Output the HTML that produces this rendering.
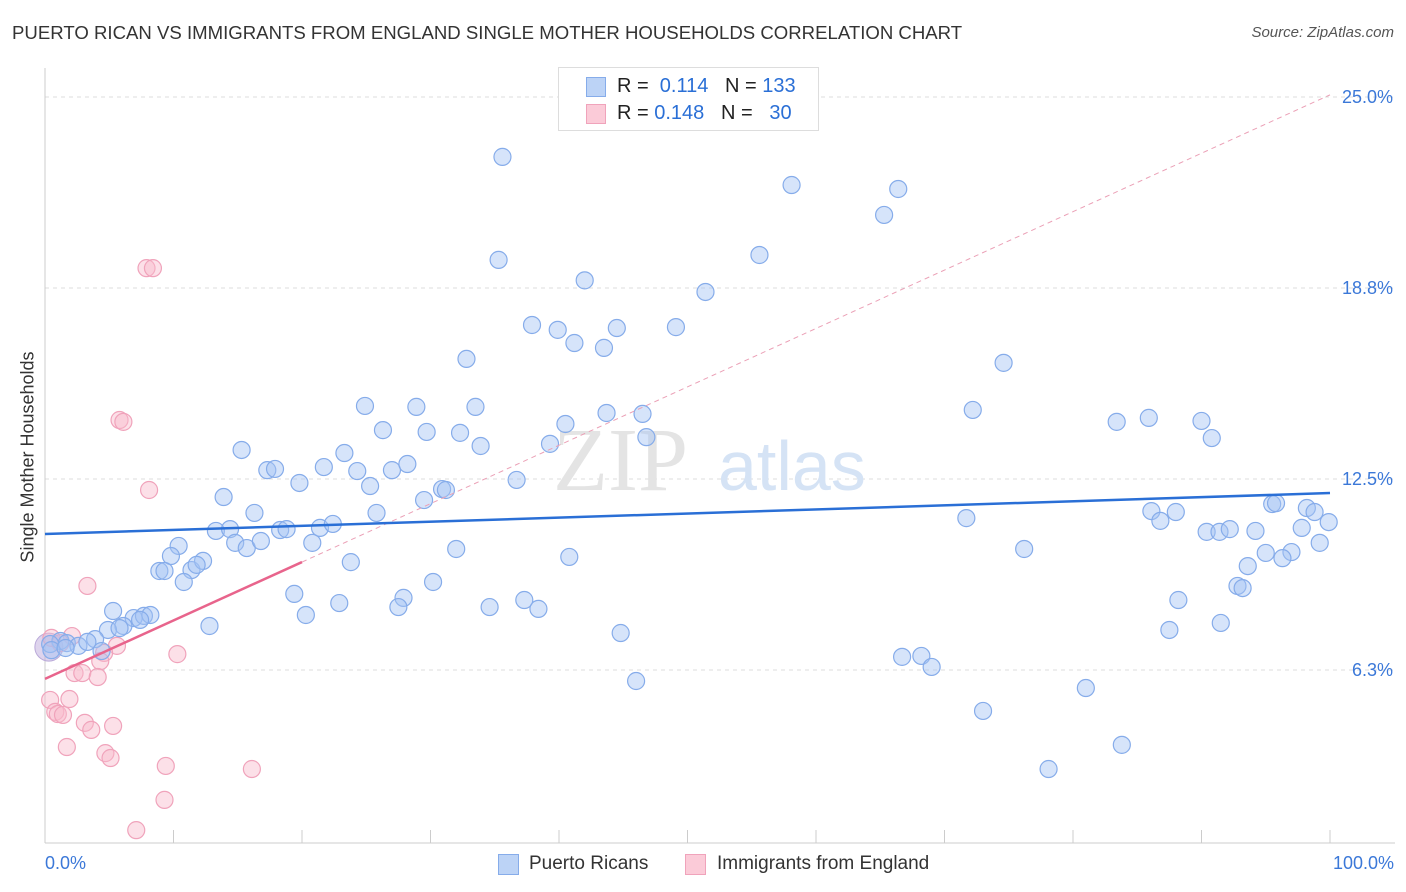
<!DOCTYPE html>
<html><head><meta charset="utf-8">
<style>
body{margin:0;background:#fff;font-family:"Liberation Sans",sans-serif;}
#wrap{position:relative;width:1406px;height:892px;overflow:hidden;}
.t{position:absolute;white-space:nowrap;}
</style></head>
<body><div id="wrap">
<div class="t" style="left:12px;top:22px;font-size:18.6px;color:#333;">PUERTO RICAN VS IMMIGRANTS FROM ENGLAND SINGLE MOTHER HOUSEHOLDS CORRELATION CHART</div>
<div class="t" style="right:12px;top:24px;font-size:15px;color:#555;font-style:italic;">Source: ZipAtlas.com</div>
<svg id="plot" width="1406" height="892" style="position:absolute;left:0;top:0"></svg>
</div>
<script>
const yTicks=[6.25,12.5,18.75,25];
const yTickLabels=["6.3%","12.5%","18.8%","25.0%"];
const blueX=[35.6,58.1,66.4,65.3,35.3,55.6,42.0,51.4,37.9,39.9,44.5,49.1,41.2,43.5,32.8,74.6,24.9,28.9,33.5,43.7,46.5,72.2,85.9,83.4,90.0,26.3,29.7,32.3,33.9,39.3,46.8,40.5,90.8,15.3,23.3,17.3,17.9,21.7,24.3,27.0,28.2,19.8,25.3,36.7,30.9,31.2,29.5,13.9,16.3,25.8,86.1,88.0,86.8,71.7,95.5,95.8,98.2,98.8,99.9,13.3,14.4,18.3,18.8,21.4,22.4,14.8,15.7,16.8,20.8,10.4,90.4,91.4,92.2,94.2,97.8,99.2,97.0,95.0,96.3,93.6,76.2,32.0,40.8,9.8,8.9,9.3,11.4,12.3,11.8,23.8,10.8,30.2,92.8,93.2,19.4,22.9,27.9,27.5,34.6,37.3,38.4,88.2,20.3,5.3,6.9,7.7,8.2,7.4,6.1,12.8,4.9,5.8,91.5,87.5,44.8,3.9,1.2,1.7,2.6,3.3,0.4,0.5,1.6,4.4,66.7,68.2,69.0,46.0,81.0,73.0,83.8,78.1];
const blueY=[23.04,22.12,21.99,21.14,19.67,19.83,19.0,18.62,17.54,17.38,17.44,17.47,16.95,16.79,16.43,16.30,14.89,14.86,14.86,14.66,14.63,14.76,14.50,14.37,14.40,14.10,14.04,14.01,13.58,13.65,13.87,14.30,13.84,13.45,13.35,12.79,12.83,12.89,12.76,12.79,12.99,12.37,12.27,12.47,12.17,12.14,11.81,11.91,11.39,11.39,11.45,11.42,11.13,11.22,11.68,11.71,11.55,11.42,11.09,10.80,10.86,10.83,10.86,10.90,11.03,10.41,10.24,10.47,10.41,10.31,10.77,10.77,10.86,10.80,10.90,10.41,10.11,10.08,9.91,9.65,10.21,10.21,9.95,9.98,9.49,9.49,9.52,9.82,9.69,9.78,9.13,9.13,9.00,8.93,8.74,8.44,8.61,8.31,8.31,8.54,8.25,8.54,8.05,8.18,7.95,8.02,8.05,7.89,7.69,7.69,7.56,7.62,7.79,7.56,7.46,7.26,7.20,7.13,7.04,7.17,7.10,6.90,6.97,6.87,6.68,6.71,6.35,5.89,5.66,4.91,3.80,3.01];
const pinkX=[7.9,8.4,5.8,6.1,8.1,3.3,0.5,2.1,1.2,5.6,4.6,4.3,10.3,2.3,2.9,4.1,0.4,1.9,0.8,1.0,1.4,3.1,3.6,5.3,1.7,4.7,5.1,9.4,16.1,9.3,7.1];
const pinkY=[19.40,19.40,14.43,14.37,12.14,9.00,7.30,7.36,7.13,7.04,6.81,6.54,6.77,6.15,6.15,6.02,5.27,5.30,4.88,4.81,4.78,4.52,4.29,4.42,3.73,3.53,3.37,3.11,3.01,2.00,1.01];
const blueTrend=[10.7,12.04];
const pinkTrend=[5.96,25.07];
const pinkSolidEnd=20;

const X=v=>45+v*12.85, Y=v=>861-v*30.56;
const svg=document.getElementById('plot');
const NS='http://www.w3.org/2000/svg';
function mk(tag,attrs){const e=document.createElementNS(NS,tag);for(const k in attrs)e.setAttribute(k,attrs[k]);svg.appendChild(e);return e;}
for(let i=0;i<yTicks.length;i++){
 const g=mk('line',{x1:45,x2:1395,y1:Y(yTicks[i]),y2:Y(yTicks[i]),stroke:'#ddd','stroke-dasharray':'4,4'});
 
 
 const t=mk('text',{x:1393,y:Y(yTicks[i])+6,'text-anchor':'end','font-size':18,fill:'#3b78d8','font-family':'Liberation Sans'});
 t.textContent=yTickLabels[i];
 
 
}
mk('line',{x1:45,x2:45,y1:68,y2:843,stroke:'#ccc'});
mk('line',{x1:45,x2:1395,y1:843,y2:843,stroke:'#ccc'});
for(let i=1;i<=10;i++){const e=mk('line',{x1:X(i*10),x2:X(i*10),y1:830,y2:843,stroke:'#ccc'});
 
 }
const w1=mk('text',{x:553,y:490,'font-size':90,fill:'#e4e4e4','font-family':'Liberation Serif'});w1.textContent='ZIP';


const w2=mk('text',{x:718,y:490,'font-size':70,fill:'#d5e3f5','font-family':'Liberation Sans'});w2.textContent='atlas';


const bb=mk('circle',{cx:X(0.3),cy:Y(7.0),r:14,fill:'rgba(190,170,220,0.5)',stroke:'#b9a8d8'});


for(let i=0;i<pinkX.length;i++){const c=mk('circle',{cx:X(pinkX[i]),cy:Y(pinkY[i]),r:8.5,fill:'rgba(248,186,204,0.45)',stroke:'#f0a3bb','stroke-width':1.2});
 
 }
for(let i=0;i<blueX.length;i++){const c=mk('circle',{cx:X(blueX[i]),cy:Y(blueY[i]),r:8.5,fill:'rgba(164,196,244,0.45)',stroke:'#86acea','stroke-width':1.2});
 
 }
const pd=mk('line',{x1:X(pinkSolidEnd),y1:Y(pinkTrend[0]+(pinkTrend[1]-pinkTrend[0])*pinkSolidEnd/100),x2:X(100),y2:Y(pinkTrend[1]),stroke:'#eba0b6','stroke-width':1,'stroke-dasharray':'5,4'});


const ps=mk('line',{x1:X(0),y1:Y(pinkTrend[0]),x2:X(pinkSolidEnd),y2:Y(pinkTrend[0]+(pinkTrend[1]-pinkTrend[0])*pinkSolidEnd/100),stroke:'#e8648c','stroke-width':2.5});


const bl=mk('line',{x1:X(0),y1:Y(blueTrend[0]),x2:X(100),y2:Y(blueTrend[1]),stroke:'#2a6fd6','stroke-width':2.5});


</script>
<div class="t" style="left:28px;top:457px;font-size:18px;color:#333;transform:translate(-50%,-50%) rotate(-90deg);">Single Mother Households</div>
<div class="t" style="left:45px;top:853px;font-size:18px;color:#3b78d8;">0.0%</div>
<div class="t" style="right:12px;top:853px;font-size:18px;color:#3b78d8;">100.0%</div>
<div style="position:absolute;left:558px;top:67px;width:259px;height:62px;border:1px solid #ddd;background:#fff;font-size:20px;color:#222;">
 <div style="position:absolute;left:27px;top:9px;width:18px;height:18px;background:#bcd3f6;border:1px solid #86acea;"></div>
 <div class="t" style="left:58px;top:7px;">R = <span style="color:#2a6fd6">&nbsp;0.114</span>&nbsp;&nbsp;&nbsp;N = <span style="color:#2a6fd6">133</span></div>
 <div style="position:absolute;left:27px;top:36px;width:18px;height:18px;background:#fbcbd8;border:1px solid #f0a3bb;"></div>
 <div class="t" style="left:58px;top:34px;">R = <span style="color:#2a6fd6">0.148</span>&nbsp;&nbsp;&nbsp;N = <span style="color:#2a6fd6">&nbsp;&nbsp;30</span></div>
</div>
<div style="position:absolute;left:498px;top:853px;font-size:19px;color:#333;">
 <div style="position:absolute;left:0;top:1px;width:19px;height:19px;background:#bcd3f6;border:1px solid #86acea;"></div>
 <div class="t" style="left:31px;top:0;">Puerto Ricans</div>
 <div style="position:absolute;left:187px;top:1px;width:19px;height:19px;background:#fbcbd8;border:1px solid #f0a3bb;"></div>
 <div class="t" style="left:219px;top:0;">Immigrants from England</div>
</div>
</body></html>
